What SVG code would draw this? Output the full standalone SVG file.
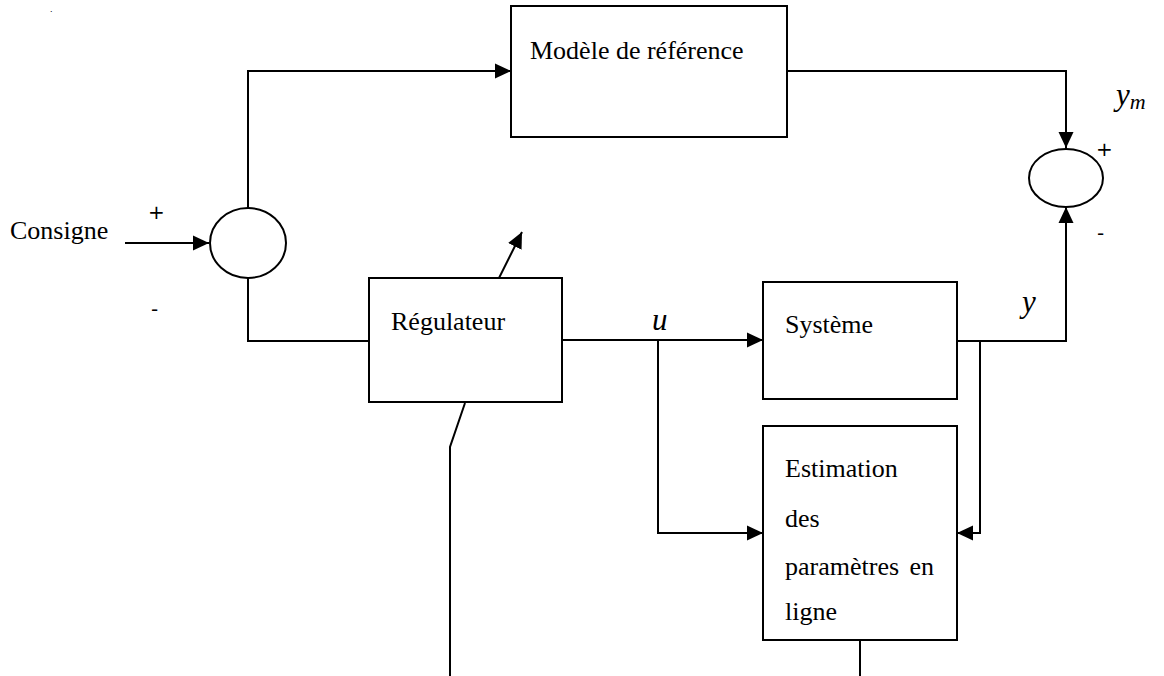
<svg xmlns="http://www.w3.org/2000/svg" width="1164" height="676" viewBox="0 0 1164 676">
<defs>
<marker id="ah" markerUnits="userSpaceOnUse" markerWidth="16" markerHeight="16" viewBox="0 0 16 16" refX="16" refY="8" orient="auto">
<path d="M0,0.5 L16,8 L0,15.5 Z" fill="#000"/>
</marker>
</defs>
<style>
.box{fill:#fff;stroke:#000;stroke-width:2}
.ln{fill:none;stroke:#000;stroke-width:2}
.t{font-family:"Liberation Serif",serif;font-size:26px;fill:#000}
.m{font-family:"Liberation Serif",serif;font-style:italic;font-size:31px;fill:#000}
.s{font-family:"DejaVu Sans",sans-serif;font-size:20px;fill:#000}
</style>
<rect width="1164" height="676" fill="#fff"/>
<text x="50" y="12" font-family="Liberation Sans, sans-serif" font-size="9">.</text>
<g id="connectors">
<path class="ln" d="M125,243 L209,243" marker-end="url(#ah)"/>
<path class="ln" d="M248,208 L248,71 L511,71" marker-end="url(#ah)"/>
<path class="ln" d="M248,278 L248,341 L369,341"/>
<path class="ln" d="M562,340 L763,340" marker-end="url(#ah)"/>
<path class="ln" d="M658,340 L658,533 L763,533" marker-end="url(#ah)"/>
<path class="ln" d="M787,71 L1066,71 L1066,148" marker-end="url(#ah)"/>
<path class="ln" d="M957,341 L1066,341 L1066,207" marker-end="url(#ah)"/>
<path class="ln" d="M980,341 L980,533 L957,533" marker-end="url(#ah)"/>
<path class="ln" d="M499,278 L522,232" marker-end="url(#ah)"/>
<path class="ln" d="M465,403 L450,447 L450,676"/>
<path class="ln" d="M860,640 L860,676"/>
</g>
<g id="sum1">
<ellipse class="box" cx="248" cy="243" rx="38" ry="35"/>
</g>
<g id="sum2">
<ellipse class="box" cx="1066" cy="178" rx="37" ry="29"/>
</g>
<g id="modele">
<rect class="box" x="511" y="6" width="276" height="131"/>
<text class="t" x="530" y="59">Modèle de référence</text>
</g>
<g id="regulateur">
<rect class="box" x="369" y="278" width="193" height="124"/>
<text class="t" x="391" y="330">Régulateur</text>
</g>
<g id="systeme">
<rect class="box" x="763" y="282" width="194" height="117"/>
<text class="t" x="785" y="333">Système</text>
</g>
<g id="estimation">
<rect class="box" x="763" y="426" width="194" height="214"/>
<text class="t" x="785" y="477">Estimation</text>
<text class="t" x="785" y="527">des</text>
<text class="t" x="785" y="575" word-spacing="4">paramètres en</text>
<text class="t" x="785" y="620">ligne</text>
</g>
<g id="labels">
<text class="t" x="10" y="239">Consigne</text>
<text class="s" x="148" y="219">+</text>
<text class="s" x="151" y="316" font-family="Liberation Sans, sans-serif">-</text>
<text class="m" x="652" y="330">u</text>
<text class="m" x="1022" y="312">y</text>
<text class="m" x="1116" y="105">y<tspan font-size="22" dy="4">m</tspan></text>
<text class="s" x="1096" y="156">+</text>
<text class="s" x="1097" y="240" font-family="Liberation Sans, sans-serif">-</text>
</g>
</svg>
